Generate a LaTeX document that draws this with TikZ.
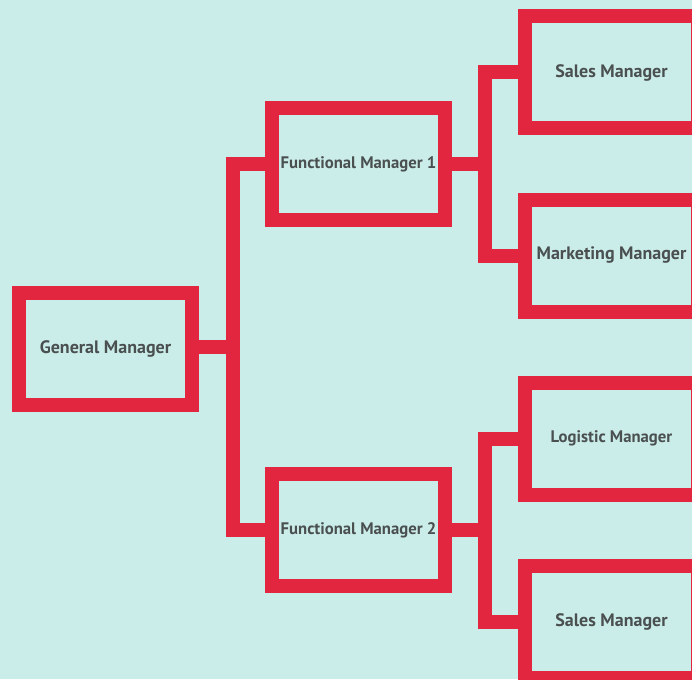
\documentclass[tikz,border=0pt]{standalone}
\usepackage{fontspec}
\setmainfont{PT Sans}
\definecolor{bgmint}{HTML}{CBEDE9}
\definecolor{boxred}{HTML}{E2263F}
\definecolor{txtgray}{HTML}{4A4F50}
\begin{document}
\begin{tikzpicture}[x=1pt,y=-1pt,
  orgbox/.style={draw=boxred,line width=14pt,rectangle,minimum width=173pt,minimum height=112pt,inner sep=0pt,outer sep=0pt,text=txtgray,font=\fontsize{18}{21}\selectfont\bfseries},
  smallbox/.style={orgbox,font=\fontsize{16.7}{20}\selectfont\bfseries},
  link/.style={draw=boxred,line width=14pt,line join=miter,line cap=butt}]
\useasboundingbox (0,0) rectangle (692,679);
\clip (0,0) rectangle (692,679);
\fill[bgmint] (0,0) rectangle (692,679);
\node[orgbox] (gm) at (105.5,348.5) {General Manager};
\node[smallbox] (fm1) at (358.5,164) {Functional Manager 1};
\node[smallbox] (fm2) at (358.5,530) {Functional Manager 2};
\node[orgbox] (sm1) at (611.5,72.5) {Sales Manager};
\node[orgbox] (mm) at (611.5,255.5) {Marketing Manager};
\node[smallbox] (lm) at (611.5,438.6) {Logistic Manager};
\node[orgbox] (sm2) at (611.5,622) {Sales Manager};
\coordinate (ja) at (232.5,347);
\coordinate (jb) at (485,164);
\coordinate (jc) at (485,530);
\draw[link] (gm.east |- ja) -- (ja);
\draw[link] (fm1.west) -| (ja) |- (fm2.west);
\draw[link] (fm1.east) -- (jb);
\draw[link] (sm1.west) -| (jb) |- (mm.west);
\draw[link] (fm2.east) -- (jc);
\draw[link] (lm.west) -| (jc) |- (sm2.west);
\end{tikzpicture}
\end{document}
